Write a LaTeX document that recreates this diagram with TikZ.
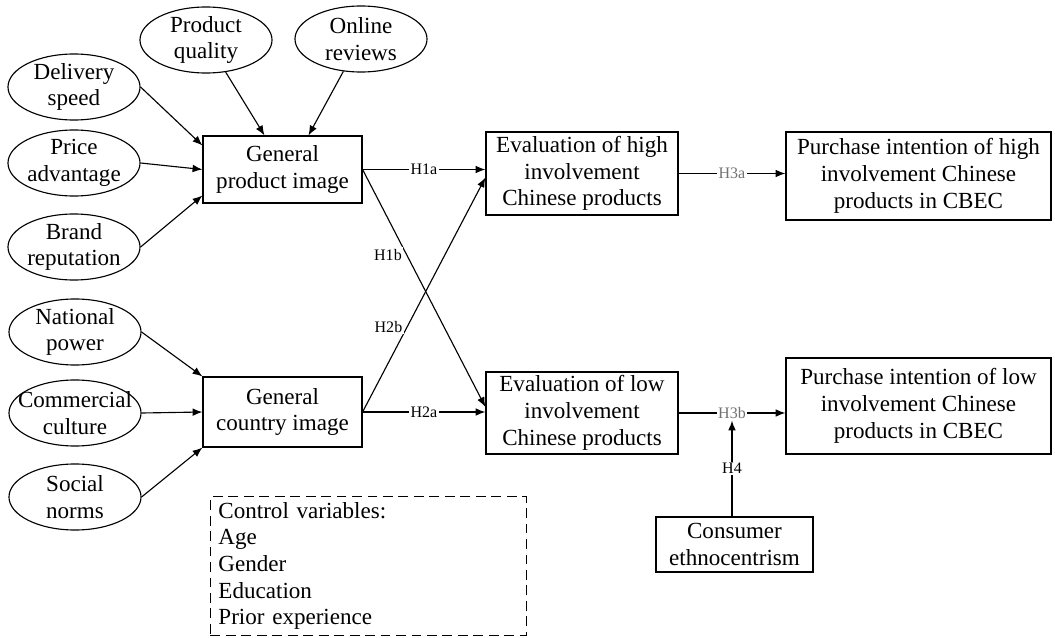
\documentclass[tikz,border=0pt]{standalone}
\usepackage{fontspec}
\setmainfont{Liberation Serif}
\usetikzlibrary{shapes.geometric,arrows.meta}

\tikzset{
  factor/.style={draw, ellipse, line width=0.8pt, minimum width=3.3cm,
    minimum height=1.65cm, inner sep=-0.3cm, align=center},
  construct/.style={draw, rectangle, line width=0.8pt, align=center, inner sep=0pt},
  arr/.style={line width=0.8pt, -{Latex[length=7pt,width=5.5pt]}},
  hyp/.style={font=\fontsize{11.4}{12}\selectfont, fill=white, inner sep=1pt},
  hypgray/.style={hyp, text=black!55}
}

\begin{document}
\begin{tikzpicture}[x=0.025cm, y=-0.025cm, font=\fontsize{16.4}{19}\selectfont]
    \useasboundingbox (0,0) rectangle (1055,638);

    % Antecedents of product image
    \node[factor] (pq)  at (206,40)  {Product\\quality};
    \node[factor] (onl) at (361,39)  {Online\\reviews};
    \node[factor] (dlv) at (74,87)   {Delivery\\speed};
    \node[factor] (prc) at (74,163)  {Price\\advantage};
    \node[factor] (brd) at (74,247)  {Brand\\reputation};

    % Antecedents of country image
    \node[factor] (natp) at (75,332) {National\\power};
    \node[factor] (comc) at (75,413) {Commercial\\culture};
    \node[factor] (socn) at (75,497) {Social\\norms};

    % Constructs
    \node[construct, minimum width=3.975cm, minimum height=1.675cm]
      (prodimg) at (282.5,169.5) {General\\product image};
    \node[construct, minimum width=3.975cm, minimum height=1.75cm]
      (cntimg) at (282.5,412) {General\\country image};
    \node[construct, minimum width=4.8cm, minimum height=2.075cm]
      (evalhigh) at (582,173.5) {Evaluation of high\\involvement\\Chinese products};
    \node[construct, minimum width=4.8cm, minimum height=2.05cm]
      (evallow) at (582,413) {Evaluation of low\\involvement\\Chinese products};
    \node[construct, minimum width=6.625cm, minimum height=2.2cm]
      (purhigh) at (918.5,176) {Purchase intention of high\\involvement Chinese\\products in CBEC};
    \node[construct, minimum width=6.625cm, minimum height=2.4cm]
      (purlow) at (918.5,406) {Purchase intention of low\\involvement Chinese\\products in CBEC};
    \node[construct, minimum width=3.925cm, minimum height=1.375cm]
      (ethno) at (734.5,544.5) {Consumer\\ethnocentrism};

    % Control variables
    \node[draw, dashed, dash pattern=on 7pt off 4pt, line width=0.7pt,
      text width=7.5cm, inner xsep=0.2cm, inner ysep=0.05cm,
      minimum height=3.45cm, align=left]
      (ctrl) at (368.5,566)
      {Control variables:\\Age\\Gender\\Education\\Prior experience};

    % Inputs to the images
    \draw[arr] (pq) -- ([xshift=-0.45cm]prodimg.north);
    \draw[arr] (onl) -- ([xshift=0.65cm]prodimg.north);
    \draw[arr] (dlv.east) -- ([yshift=0.6cm]prodimg.west);
    \draw[arr] (prc.east) -- (prodimg.west);
    \draw[arr] (brd.east) -- ([yshift=-0.65cm]prodimg.west);
    \draw[arr] (natp.east) -- (cntimg.north west);
    \draw[arr] (comc.east) -- (cntimg.west);
    \draw[arr] (socn.east) -- (cntimg.south west);

    % Hypotheses
    \draw[arr] (prodimg.east) -- (prodimg.east -| evalhigh.west)
      node[hyp, midway] {H1a};
    \draw[arr] (prodimg.east) -- ([yshift=0.15cm]evallow.west)
      node[hyp, pos=0.358, left=2pt] {H1b};
    \draw[arr] (cntimg.east) -- ([yshift=-0.1cm]evalhigh.west)
      node[hyp, pos=0.362, left=2pt] {H2b};
    \draw[arr] (cntimg.east) -- (cntimg.east -| evallow.west)
      node[hyp, midway] {H2a};
    \draw[arr] (evalhigh.east) -- (evalhigh.east -| purhigh.west)
      node[hypgray, midway] {H3a};
    \draw[arr] (evallow.east) -- (evallow.east -| purlow.west)
      node[hypgray, midway] (h3b) {H3b};
    \draw[arr] (ethno.north -| h3b) -- (h3b.south)
      node[hyp, midway] {H4};
\end{tikzpicture}
\end{document}
